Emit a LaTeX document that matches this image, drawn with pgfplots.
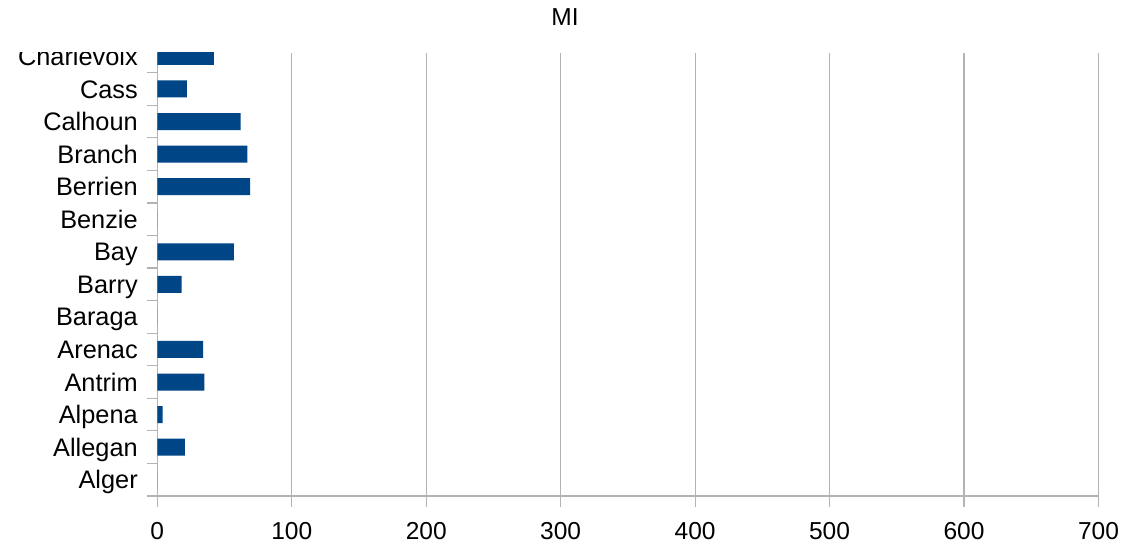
\documentclass[border=0pt]{standalone}
\usepackage{fontspec}
\setmainfont{Liberation Sans}
\usepackage{pgfplots}
\pgfplotsset{compat=1.18}
\definecolor{barblue}{HTML}{004586}
\definecolor{gridgray}{HTML}{B3B3B3}
\begin{document}
\begin{tikzpicture}
\useasboundingbox (-118pt,-39pt) rectangle (728.8pt,372pt);
\node[font=\fontsize{18.4}{22}\selectfont, anchor=base, inner sep=0pt] at (305.8pt,352.5pt) {MI};
\begin{scope}
\clip (-118pt,-39pt) rectangle (728.8pt,332.25pt);
\begin{axis}[
  at={(0,0)}, anchor=south west,
  scale only axis, width=705.9pt, height=332.25pt,
  xmin=0, xmax=700, ymin=-0.5, ymax=13.105,
  xbar, bar width=12.75pt,
  axis x line*=bottom, axis y line*=left,
  axis line style={gridgray, line width=0.9pt},
  tick align=outside,
  major tick length=8pt,
  tick style={gridgray, line width=0.9pt},
  xtick={0,100,...,700},
  xmajorgrids=true,
  grid style={gridgray, line width=0.9pt},
  ytick={-0.5,0.5,...,12.5},
  yticklabels={,,,,,,,,,,,,,,},
  extra y ticks={0,1,2,3,4,5,6,7,8,9,10,11,12,13},
  extra y tick labels={Alger,Allegan,Alpena,Antrim,Arenac,Baraga,Barry,Bay,Benzie,Berrien,Branch,Calhoun,Cass,Charlevoix},
  extra y tick style={major tick length=0pt, yticklabel style={anchor=base east, inner sep=0pt, xshift=-14.5pt, yshift=-6.8pt, font=\fontsize{19}{22}\selectfont}},
  /pgf/number format/assume math mode=true,
  ticklabel style={font=\fontsize{18.4}{22}\selectfont},
  xticklabel style={anchor=base, inner sep=0pt, yshift=-24.55pt},
  clip=false,
]
\addplot[fill=barblue, draw=none] coordinates {
(0,0) (20.5,1) (4,2) (35,3) (34,4) (0,5) (18,6) (57,7) (0,8) (69,9) (67,10) (62,11) (22,12) (42,13)
};
\end{axis}
\end{scope}
\end{tikzpicture}
\end{document}
